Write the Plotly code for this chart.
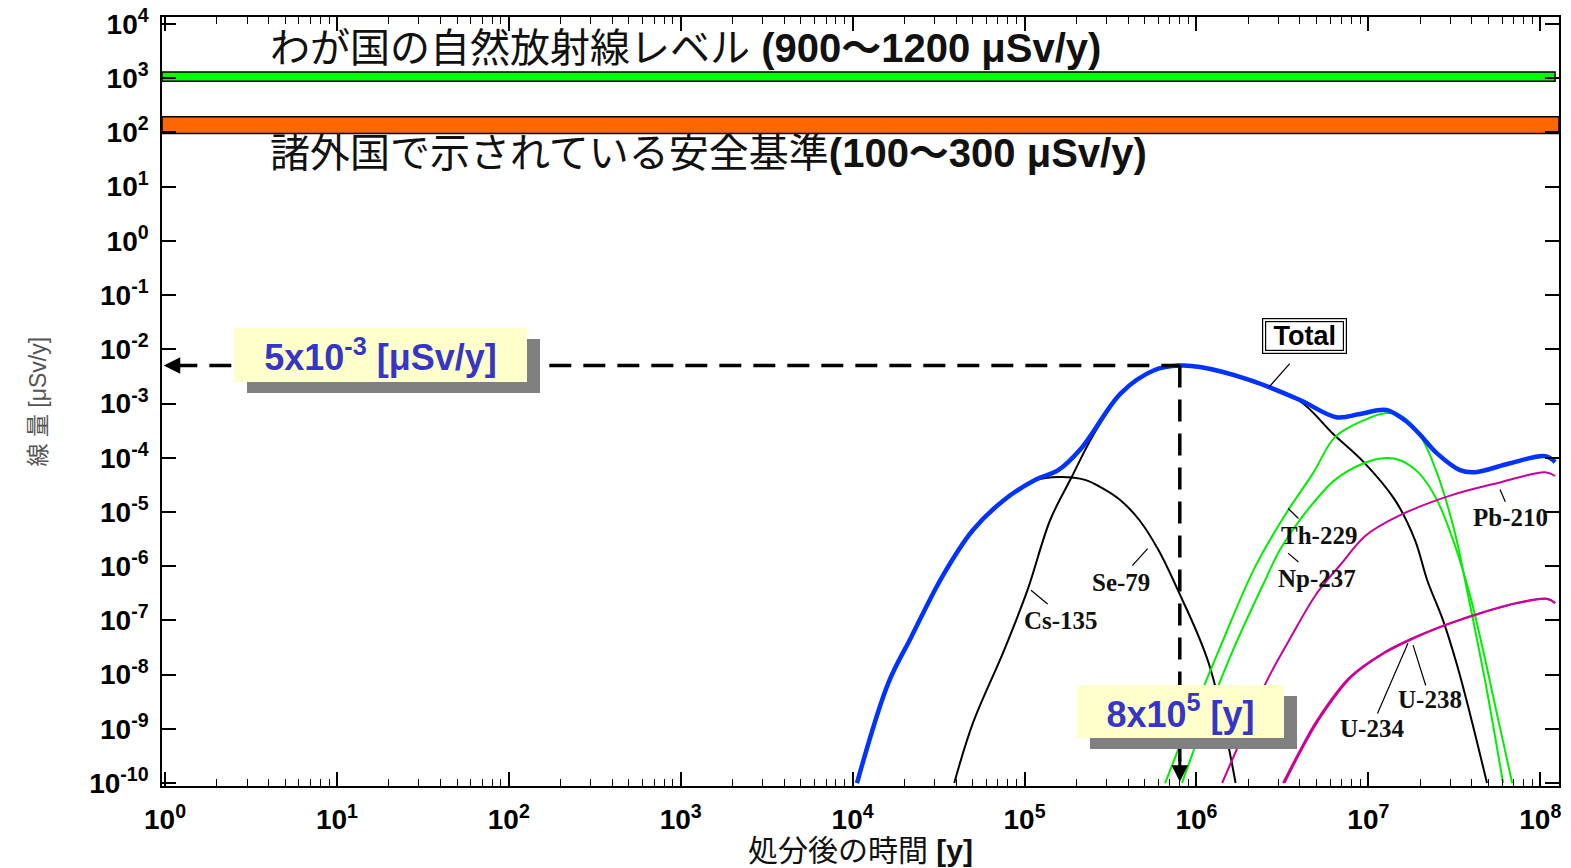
import math
import plotly.graph_objects as go

# ---------------- axis definitions ----------------
X_RANGE_LOG = [-0.0175, 8.109]
Y_RANGE_LOG = [-10.055, 4.129]
x_tick_vals = [1e0, 1e1, 1e2, 1e3, 1e4, 1e5, 1e6, 1e7, 1e8]
x_tick_text = ["<b>10<sup>%d</sup></b>" % k for k in range(0, 9)]
y_tick_vals = [10.0 ** k for k in range(-10, 5)]
y_tick_text = ["<b>10<sup>%d</sup></b>" % k for k in range(-10, 5)]
x_minor_vals = [m * 10.0 ** k for k in range(0, 9) for m in range(2, 10)]

# ---------------- reference bands (μSv/y) ----------------
natural_band = [880, 1300]     # わが国の自然放射線レベル
safety_band = [96, 194]        # 諸外国で示されている安全基準

# ---------------- dose curves: time [y] / dose [μSv/y] ----------------
total_t = [1.06e4, 1.61e4, 2.19e4, 3.31e4, 5.0e4, 7.6e4, 1.15e5, 1.57e5, 2.14e5, 2.47e5,
           3.64e5, 5.67e5, 8.0e5, 1.05e6, 2.05e6, 4.0e6, 6.5e6, 8.95e6, 1.27e7, 1.63e7,
           1.97e7, 2.51e7, 3.41e7, 4.18e7, 6.67e7, 1.07e8, 1.22e8]
total_d = [1e-10, 6.9e-9, 4.9e-8, 6.3e-7, 4.6e-6, 1.66e-5, 3.9e-5, 5.9e-5, 1.5e-4, 2.8e-4,
           1.56e-3, 4.1e-3, 5.0e-3, 4.7e-3, 2.7e-3, 1.16e-3, 5.6e-4, 6.4e-4, 7.6e-4, 4.9e-4,
           2.8e-4, 1.2e-4, 5.9e-5, 5.4e-5, 7.9e-5, 1.07e-4, 8.3e-5]

se79_t = [1.06e4, 1.61e4, 2.19e4, 3.31e4, 5.0e4, 7.6e4, 1.15e5, 1.6e5, 2.25e5, 2.8e5,
          3.6e5, 4.65e5, 6.0e5, 7.8e5, 1.18e6, 1.69e6]
se79_d = [1e-10, 6.9e-9, 4.9e-8, 6.3e-7, 4.6e-6, 1.6e-5, 3.8e-5, 4.4e-5, 3.9e-5, 2.8e-5,
          1.66e-5, 7.1e-6, 2.0e-6, 3.6e-7, 1.6e-8, 1e-10]

cs135_t = [3.9e4, 5.0e4, 7.6e4, 1.04e5, 1.41e5, 1.88e5, 2.25e5, 2.47e5, 3.64e5, 5.67e5,
           8.0e5, 1.05e6, 2.05e6, 4.0e6, 6.2e6, 9.4e6, 1.43e7, 1.87e7, 2.2e7, 2.72e7,
           3.28e7, 3.9e7, 4.9e7]
cs135_d = [1e-10, 1.26e-9, 2.8e-8, 3.6e-7, 7.1e-6, 4.4e-5, 1.38e-4, 2.4e-4, 1.5e-3, 4.0e-3,
           4.95e-3, 4.6e-3, 2.6e-3, 1.1e-3, 2.8e-4, 8.3e-5, 1.65e-5, 3.0e-6, 5.5e-7, 1.0e-7,
           1.5e-8, 1.9e-9, 1e-10]

th229_t = [6.57e5, 9.18e5, 1.35e6, 2.19e6, 3.27e6, 4.77e6, 6.4e6, 9.4e6, 1.27e7, 1.53e7,
           1.97e7, 2.51e7, 3.19e7, 3.65e7, 4.18e7, 4.77e7, 5.38e7, 6.08e7]
th229_d = [1e-10, 1.44e-9, 2.8e-8, 9.6e-7, 8.7e-6, 5.2e-5, 2.4e-4, 4.9e-4, 6.65e-4, 6.1e-4,
           2.8e-4, 5.2e-5, 4.1e-6, 5.5e-7, 6.6e-8, 7.9e-9, 9.4e-10, 1e-10]

np237_t = [8.24e5, 1.12e6, 1.63e6, 2.51e6, 3.06e6, 4.11e6, 6.4e6, 9.4e6, 1.23e7, 1.53e7,
           1.97e7, 2.51e7, 3.19e7, 3.9e7, 4.65e7, 5.46e7, 6.24e7, 6.86e7]
np237_d = [1e-10, 1.44e-9, 2.8e-8, 5.5e-7, 2.0e-6, 8.0e-6, 3.9e-5, 7.9e-5, 9.8e-5, 9.0e-5,
           5.2e-5, 1.65e-5, 2.4e-6, 2.9e-7, 2.8e-8, 2.7e-9, 4.0e-10, 1e-10]

pb210_t = [1.41e6, 1.92e6, 2.58e6, 3.46e6, 5.03e6, 6.84e6, 9.7e6, 1.53e7, 2.99e7, 5.83e7,
           1.07e8, 1.22e8]
pb210_d = [1e-10, 9.4e-10, 7.9e-9, 4.3e-8, 3.2e-7, 1.04e-6, 3.7e-6, 8.7e-6, 2.0e-5, 3.5e-5,
           5.4e-5, 4.6e-5]

u234_t = [3.19e6, 4.0e6, 5.03e6, 7.82e6, 1.22e7, 1.92e7, 2.99e7, 4.65e7, 7.33e7, 1.1e8, 1.22e8]
u234_d = [1e-10, 4.0e-10, 1.44e-9, 9.0e-9, 2.5e-8, 5.1e-8, 8.9e-8, 1.42e-7, 2.1e-7, 2.5e-7, 2.1e-7]
u238_t = [3.25e6, 4.05e6, 5.1e6, 7.9e6, 1.23e7, 1.93e7, 3.0e7, 4.66e7, 7.35e7, 1.1e8, 1.22e8]
u238_d = [1e-10, 3.9e-10, 1.4e-9, 8.8e-9, 2.45e-8, 5.0e-8, 8.8e-8, 1.4e-7, 2.08e-7, 2.48e-7, 2.08e-7]

# peak read-out
peak_time = 8e5       # [y]
peak_dose = 5e-3      # [μSv/y]

# nuclide labels: (text, label position, leader head, leader tail)
nuclide_labels = [
    ("Se-79", (3.64e5, 5.1e-7), (5.2e5, 2.1e-6), (4.16e5, 9.6e-7)),
    ("Cs-135", (1.63e5, 1.0e-7), (1.09e5, 3.6e-7), (1.39e5, 1.9e-7)),
    ("Th-229", (5.17e6, 3.7e-6), (3.41e6, 1.17e-5), (4.0e6, 7.1e-6)),
    ("Np-237", (5.03e6, 6.0e-7), (3.41e6, 1.74e-6), (4.0e6, 1.13e-6)),
    ("Pb-210", (6.67e7, 8.0e-6), (5.83e7, 2.6e-5), (6.32e7, 1.45e-5)),
    ("U-238", (2.29e7, 3.4e-9), (1.82e7, 3.5e-8), (2.17e7, 5.9e-9)),
    ("U-234", (1.05e7, 1.03e-9), (1.7e7, 3.8e-8), (1.12e7, 1.8e-9)),
]
total_label = ((4.23e6, 1.75e-2), (2.64e6, 2.0e-3), (3.55e6, 5.8e-3))

# ---------------- figure ----------------
L = math.log10
xmin, xmax = 10 ** X_RANGE_LOG[0], 10 ** X_RANGE_LOG[1]
fig = go.Figure()


def band(lo, hi, x1, color):
    fig.add_trace(go.Scatter(x=[xmin, x1, x1, xmin, xmin], y=[lo, lo, hi, hi, lo],
                             mode="lines", fill="toself", fillcolor=color,
                             line=dict(color="black", width=1.5), hoverinfo="skip",
                             showlegend=False))


band(natural_band[0], natural_band[1], 10 ** 8.086, "#00FF00")
band(safety_band[0], safety_band[1], xmax, "#FF6600")


def curve(t, d, color, width):
    fig.add_trace(go.Scatter(x=t, y=d, mode="lines",
                             line=dict(color=color, width=width, shape="spline", smoothing=1.0),
                             hoverinfo="skip", showlegend=False))


curve(se79_t, se79_d, "black", 2)
curve(cs135_t, cs135_d, "black", 2)
curve(th229_t, th229_d, "#00EE00", 2)
curve(np237_t, np237_d, "#00EE00", 2)
curve(pb210_t, pb210_d, "#CC0099", 2)
curve(u234_t, u234_d, "#CC0099", 2)
curve(u238_t, u238_d, "#CC0099", 2)
curve(total_t, total_d, "#0033FF", 4.5)

# dashed peak read-out lines
dash_line = dict(color="black", width=3.5, dash="22px,12px")
fig.add_trace(go.Scatter(x=[10 ** 0.06, peak_time], y=[peak_dose, peak_dose], mode="lines",
                         line=dash_line, hoverinfo="skip", showlegend=False))
fig.add_trace(go.Scatter(x=[peak_time, peak_time], y=[peak_dose, 10 ** -9.8], mode="lines",
                         line=dash_line, hoverinfo="skip", showlegend=False))

ann = []
# arrow heads
ann.append(dict(x=X_RANGE_LOG[0] + 0.01, y=L(peak_dose), xref="x", yref="y", text="", showarrow=True,
                arrowhead=2, arrowsize=1.1, arrowwidth=3, arrowcolor="black", ax=24, ay=0, standoff=0))
ann.append(dict(x=L(peak_time), y=Y_RANGE_LOG[0] + 0.08, xref="x", yref="y", text="", showarrow=True,
                arrowhead=2, arrowsize=1.1, arrowwidth=3, arrowcolor="black", ax=0, ay=-24, standoff=0))

# band titles
title_font = dict(family="Liberation Sans, Noto Sans CJK JP", size=40, color="#111111")
ann.append(dict(x=0.0759, y=0.9597, xref="paper", yref="paper", xanchor="left", yanchor="middle",
                text="わが国の自然放射線レベル <b>(900〜1200 μSv/y)</b>", showarrow=False, font=title_font))
ann.append(dict(x=0.0759, y=0.8231, xref="paper", yref="paper", xanchor="left", yanchor="middle",
                text="諸外国で示されている安全基準<b>(100〜300 μSv/y)</b>", showarrow=False, font=title_font))

# callout boxes with drop shadow
callouts = [
    ("<b>5x10<sup>-3</sup> [μSv/y]</b>", 18.0, 7.8e-3, 293, 54),
    ("<b>8x10<sup>5</sup> [y]</b>", 8.1e5, 2.1e-9, 207, 53),
]
for txt, cx, cy, w, h in callouts:
    ann.append(dict(x=L(cx), y=L(cy), xref="x", yref="y", text="", showarrow=False,
                    width=w, height=h, bgcolor="#808080", borderpad=0, borderwidth=0,
                    xshift=13, yshift=-11))
    ann.append(dict(x=L(cx), y=L(cy), xref="x", yref="y", text=txt, showarrow=False,
                    width=w, height=h, bgcolor="#FFFFCC", borderpad=0, borderwidth=0,
                    font=dict(family="Liberation Sans", size=36, color="#3535C8")))

# nuclide labels with leader lines
lab_font = dict(family="Liberation Serif", size=25, color="#111111")
for txt, (lx, ly), (hx, hy), (tx, ty) in nuclide_labels:
    ann.append(dict(x=L(hx), y=L(hy), ax=L(tx), ay=L(ty), xref="x", yref="y", axref="x", ayref="y",
                    text="", showarrow=True, arrowhead=0, arrowwidth=1.2, arrowcolor="black", standoff=0))
    ann.append(dict(x=L(lx), y=L(ly), xref="x", yref="y", text="<b>%s</b>" % txt, showarrow=False,
                    font=lab_font))

# Total label (double frame)
(tlx, tly), (thx, thy), (ttx, tty) = total_label
ann.append(dict(x=L(thx), y=L(thy), ax=L(ttx), ay=L(tty), xref="x", yref="y", axref="x", ayref="y",
                text="", showarrow=True, arrowhead=0, arrowwidth=1.2, arrowcolor="black", standoff=0))
ann.append(dict(x=L(tlx), y=L(tly), xref="x", yref="y", text="", showarrow=False,
                width=83, height=34, borderpad=0, borderwidth=1.2, bordercolor="black", bgcolor="white"))
ann.append(dict(x=L(tlx), y=L(tly), xref="x", yref="y", text="<b>Total</b>", showarrow=False,
                width=77, height=28, borderpad=0, borderwidth=1.2, bordercolor="black", bgcolor="white",
                font=dict(family="Liberation Sans", size=27, color="black")))

# axis titles
ann.append(dict(x=-0.0888, y=0.5, xref="paper", yref="paper", xanchor="center", yanchor="middle",
                text="線 量 [μSv/y]", textangle=-90,
                showarrow=False, font=dict(family="Liberation Sans, Noto Sans CJK JP", size=23, color="#555555")))
ann.append(dict(x=0.4997, y=-0.0845, xref="paper", yref="paper", xanchor="center", yanchor="middle",
                text="処分後の時間 <b>[y]</b>",
                showarrow=False, font=dict(family="Liberation Sans, Noto Sans CJK JP", size=30, color="#111111")))

tick_font = dict(family="Liberation Sans", size=28, color="black")
fig.update_layout(
    template="none",
    width=1571, height=868,
    margin=dict(l=162, r=12, t=17, b=82, pad=0, autoexpand=False),
    paper_bgcolor="white", plot_bgcolor="white",
    showlegend=False,
    annotations=ann,
    xaxis=dict(type="log", range=X_RANGE_LOG, tickmode="array", tickvals=x_tick_vals, ticktext=x_tick_text,
               ticks="inside", ticklen=14, tickwidth=1.5, tickcolor="black", automargin=False,
               showline=True, linecolor="black", linewidth=1.5, mirror="allticks",
               showgrid=False, zeroline=False, tickfont=tick_font, ticklabelstandoff=8,
               minor=dict(tickvals=x_minor_vals, ticks="inside", ticklen=7, tickwidth=1.2,
                          tickcolor="black", showgrid=False)),
    yaxis=dict(type="log", range=Y_RANGE_LOG, tickmode="array", tickvals=y_tick_vals, ticktext=y_tick_text,
               ticks="inside", ticklen=14, tickwidth=1.5, tickcolor="black", automargin=False,
               showline=True, linecolor="black", linewidth=1.5, mirror="allticks",
               showgrid=False, zeroline=False, tickfont=tick_font, ticklabelstandoff=6),
)

fig.write_html("out.html", config={"displayModeBar": False},
               post_script="document.body.style.margin='0';")
